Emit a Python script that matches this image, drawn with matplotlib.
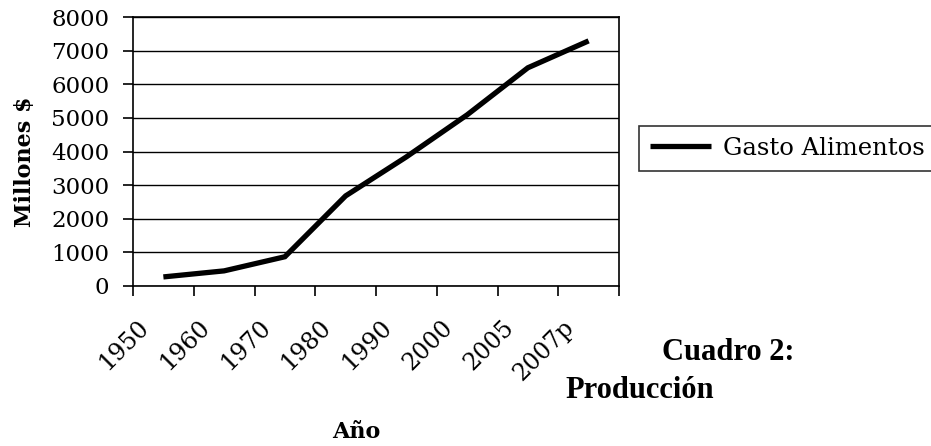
import matplotlib
matplotlib.use("Agg")
import matplotlib.pyplot as plt
import matplotlib.transforms as mtransforms
import numpy as np

# -----------------------------
# Data
# -----------------------------
years = ["1950", "1960", "1970", "1980", "1990", "2000", "2005", "2007p"]
gasto = [270, 450, 870, 2680, 3840, 5090, 6490, 7290]
y_ticks = [0, 1000, 2000, 3000, 4000, 5000, 6000, 7000, 8000]

serif = "DejaVu Serif"

fig = plt.figure(figsize=(9.31, 4.46), dpi=100)
ax = fig.add_axes([133 / 931, 1 - 286 / 446, (619 - 133) / 931, (286 - 17) / 446])

x = np.arange(len(years))
line, = ax.plot(x, gasto, color="black", lw=3.8, solid_capstyle="butt",
                solid_joinstyle="miter", label="Gasto Alimentos", zorder=3)

ax.set_xlim(-0.5, len(years) - 0.5)
ax.set_ylim(0, 8000)
ax.set_yticks(y_ticks)
ax.yaxis.grid(True, color="black", lw=1.0)
ax.set_axisbelow(True)
for s in ax.spines.values():
    s.set_color("black")
    s.set_linewidth(1.2)

# tick marks between categories, labels at category centres
ax.set_xticks(np.arange(len(years) + 1) - 0.5)
ax.set_xticklabels([])
ax.tick_params(axis="x", direction="out", length=7, width=1.2)
ax.tick_params(axis="y", direction="out", length=7, width=1.2, pad=10)
for lab in ax.get_yticklabels():
    lab.set_fontfamily(serif)
    lab.set_fontsize(16.5)

off = mtransforms.ScaledTranslation(-18 / 100, -38 / 100, fig.dpi_scale_trans)
trans = mtransforms.blended_transform_factory(ax.transData, ax.transAxes) + off
for i, yr in enumerate(years):
    ax.text(i, 0, yr, transform=trans, rotation=45, ha="right", va="center",
            rotation_mode="anchor", fontsize=17, family=serif)

fig.text(25 / 931, 1 - 162 / 446, "Millones $", rotation=90, ha="center", va="center",
         fontsize=16, fontweight="bold", family=serif)
fig.text(356 / 931, 1 - 432 / 446, "Año", ha="center", va="center",
         fontsize=16, fontweight="bold", family=serif)

fig.text(728 / 931, 1 - 352 / 446, "Cuadro 2:", ha="center", va="center",
         fontsize=22, fontweight="bold", family="Liberation Serif")
fig.text(640 / 931, 1 - 390 / 446, "Producción", ha="center", va="center",
         fontsize=22, fontweight="bold", family="Liberation Serif")

leg = fig.legend(handles=[line], loc="upper left", bbox_to_anchor=(639 / 931, 1 - 126 / 446),
                 frameon=True, fancybox=False, borderaxespad=0, handlelength=2.5,
                 prop={"family": serif, "size": 17.5}, borderpad=0.45, handletextpad=0.5)
leg.get_frame().set_edgecolor("black")
leg.get_frame().set_linewidth(1.2)

fig.savefig("out.png", dpi=100, facecolor="white")
